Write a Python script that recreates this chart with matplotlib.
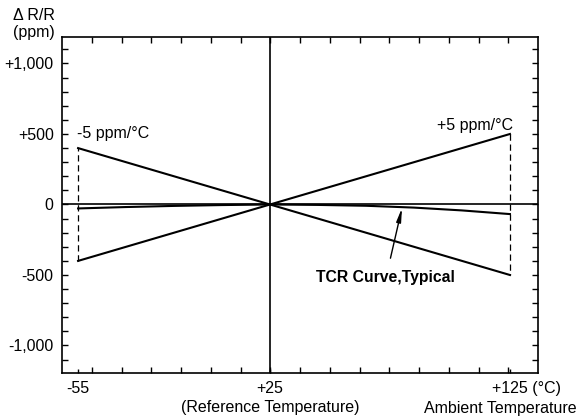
import matplotlib
matplotlib.use("Agg")
import matplotlib.pyplot as plt
import matplotlib.transforms as mtransforms
import numpy as np

plt.rcParams["font.family"] = ["Liberation Sans", "DejaVu Sans"]
plt.rcParams["font.size"] = 11.5

# data
temp_ends = [-55, 125]
plus_tcr = [-400, 500]      # +5 ppm/°C
minus_tcr = [400, -500]     # -5 ppm/°C
tcr_temp = [-55, -35, -15, 5, 25, 45, 65, 85, 105, 125]
tcr_ppm = [-28, -18, -10, -4, 0, -3, -9, -22, -42, -68]
ref_temp = 25

x_ticks = [-55, 25, 125]
x_labels = ["-55", "+25", "+125 (°C)"]
y_ticks = [-1000, -500, 0, 500, 1000]
y_labels = ["-1,000", "-500", "0", "+500", "+1,000"]

fig = plt.figure(figsize=(5.78, 4.19), dpi=100)
ax = fig.add_axes([0.1073, 0.1098, 0.8235, 0.8026])
xlim = (-61.7, 136.7)
ylim = (-1195, 1190)
ax.set_xlim(*xlim)
ax.set_ylim(*ylim)

lw = 1.5
# reference cross
ax.axhline(0, color="black", lw=1.2)
ax.axvline(ref_temp, color="black", lw=1.2)

# slope lines
ax.plot(temp_ends, plus_tcr, color="black", lw=lw)
ax.plot(temp_ends, minus_tcr, color="black", lw=lw)
ax.plot(tcr_temp, tcr_ppm, color="black", lw=lw)

# dashed end markers
for t, a, b in zip(temp_ends, plus_tcr, minus_tcr):
    ax.plot([t, t], [a, b], color="black", lw=0.9, ls=(0, (5, 3)))

# texts
ax.text(temp_ends[0] - 0.5, minus_tcr[0] + 105, "-5 ppm/°C", ha="left", va="center")
ax.text(temp_ends[1] + 1.5, plus_tcr[1] + 57, "+5 ppm/°C", ha="right", va="center")
ax.annotate("TCR Curve,Typical", xy=(80, -25), xytext=(73.3, -521),
            ha="center", va="center", fontweight="bold", fontsize=11.3,
            arrowprops=dict(arrowstyle="-|>,head_length=0.7,head_width=0.12",
                            color="black", lw=1.0, shrinkA=7, shrinkB=0))

# ticks
step = (xlim[1] - xlim[0]) / 16
ax.set_xticks(xlim[0] + step * np.arange(1, 16), minor=True)
ax.set_xticks(x_ticks)
ax.set_xticklabels(x_labels)
ax.set_yticks(np.arange(-1100, 1101, 100), minor=True)
ax.set_yticks(y_ticks)
ax.set_yticklabels(y_labels)

ax.tick_params(which="both", direction="in", width=1.0, length=4.5,
               left=True, right=True, top=False, bottom=True)
ax.tick_params(which="minor", top=True)
ax.tick_params(axis="x", which="major", length=3, pad=6)
ax.tick_params(axis="y", which="major", pad=6)

# shift the last x label so that "+125" sits under its tick
lab = ax.get_xticklabels()[-1]
lab.set_ha("left")
lab.set_transform(lab.get_transform() + mtransforms.ScaledTranslation(-18 / 100, 0, fig.dpi_scale_trans))

for sp in ax.spines.values():
    sp.set_linewidth(1.2)

fig.text(34 / 578, 1 - 15 / 419, "Δ R/R", ha="center", va="center")
fig.text(34 / 578, 1 - 33 / 419, "(ppm)", ha="center", va="center")
ax.text(ref_temp, 0, "(Reference Temperature)", ha="center", va="center",
        transform=ax.get_xaxis_transform()
        + mtransforms.ScaledTranslation(0, -35 / 100, fig.dpi_scale_trans))
fig.text(577 / 578, 1 - 408 / 419, "Ambient Temperature", ha="right", va="center")

fig.savefig("out.png", dpi=100)
